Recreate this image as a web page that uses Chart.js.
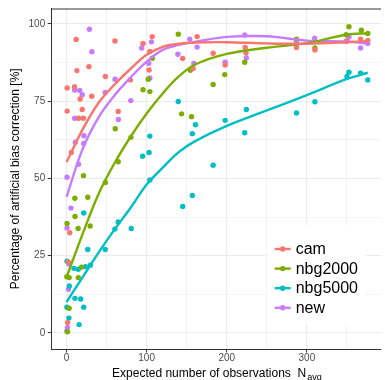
<!DOCTYPE html>
<html>
<head>
<meta charset="utf-8">
<script src="https://cdn.jsdelivr.net/npm/chart.js@4"></script>
<style>
  body { margin: 0; background: #ffffff; }
  #box { width: 385px; height: 380px; position: relative; }
</style>
</head>
<body>
<div id="box"><canvas id="grafico"></canvas></div>
<script>
const series = ["cam", "nbg2000", "nbg5000", "new"];
const cores = ["#F8766D", "#7CAE00", "#00BFC4", "#C77CFF"];

// observed points
const camX = [0.8, 0.8, 12, 13, 10, 28, 17, 31.5, 19.6, 15, 21, 6, 4, 2, 1.4, 60.4, 48.5, 79.6, 64.5, 95.5, 107, 104, 103, 145, 163, 158, 183, 198, 223, 224, 287, 310, 350, 367, 376];
const camY = [79.3, 71.8, 95, 84.9, 79.7, 86.2, 75.7, 76.6, 72.3, 69.5, 69.5, 58.4, 32.4, 23, 3.4, 94.5, 83, 81.9, 71.7, 93.7, 95.9, 91.1, 85.1, 88.8, 95.9, 85.6, 90.5, 86.7, 92.4, 90.6, 92.4, 91.6, 94.5, 95.1, 94.7];

const nbg2000X = [139.5, 107, 102, 95.5, 104, 60.8, 80.4, 64.5, 21.2, 48.5, 10.4, 26.5, 10.6, 0.6, 14.5, 29.5, 18.7, 0.4, 3.3, 14.7, 3.3, 1.2, 143.6, 156, 154.5, 183, 197.5, 222.4, 287, 310, 349, 352.5, 368, 376];
const nbg2000Y = [96.7, 88.9, 82.1, 78.7, 78.1, 66.1, 63.3, 55.4, 50.9, 48.7, 43.6, 43.9, 37.7, 35.4, 33.8, 34.6, 21.3, 18.2, 17.9, 17.9, 8, 0.4, 70.9, 70, 85, 80.4, 83.6, 87.6, 95.1, 92.2, 96.5, 99.1, 98, 96.9];

const nbg5000X = [139.5, 104, 95, 103, 104, 161, 157, 183, 145, 157, 198, 224.4, 222.4, 287, 310, 350, 352.5, 367, 376, 21.5, 60.3, 64.5, 80.8, 26.5, 48.3, 0.6, 9.4, 14.7, 23.6, 29.7, 3.5, 10.5, 17.7, 0.5, 21.5, 3, 15.7];
const nbg5000Y = [74.9, 63.7, 57.2, 58.4, 49.5, 67.4, 64.5, 54.3, 40.9, 44.5, 68.8, 72.3, 64.8, 71.2, 74.8, 83, 84.4, 84.1, 81.9, 38.8, 33.6, 35.9, 33.8, 27, 27, 23.2, 20.9, 20.6, 21.4, 21.9, 15.2, 11.2, 11, 8.3, 8.3, 4.8, 2.7];

const newX = [28.6, 31.6, 60.6, 48.3, 10.2, 16.5, 19.6, 10.2, 80.2, 64.7, 11, 21.7, 21.5, 15, 0.6, 5.5, 0.6, 3, 2.4, 1.2, 0.4, 93.8, 106, 102.6, 104, 139, 153.8, 159, 163, 198, 222.4, 224.4, 287, 309.7, 349, 352.5, 367, 376];
const newY = [98.3, 91, 82.1, 77.8, 78.6, 78.5, 77.1, 69.5, 75.2, 69.1, 61.7, 63.8, 61.3, 54.6, 50.4, 40.4, 34, 22.3, 14.1, 1.8, 0.6, 92.2, 94.2, 87.3, 82.5, 90.2, 95.1, 87.2, 92.5, 87.6, 96.4, 89, 94.4, 95.4, 94.4, 95.8, 92.2, 93.7];

// smoothed curves
const fitX = [0, 20, 40, 60, 80, 100, 120, 140, 160, 200, 250, 300, 350, 376];
const camFit = [55.3, 65.8, 74.5, 80.4, 85.5, 90, 92.6, 93.6, 94, 94.1, 93.7, 93.6, 94.1, 94.5];
const nbg2000Fit = [18, 32, 45, 55, 63.5, 71, 77.5, 83, 86.8, 90.3, 92.3, 93.8, 96.6, 97];
const nbg5000Fit = [10, 18, 26, 33.5, 40.5, 48, 53.5, 58.5, 62, 67, 72, 77, 82.2, 84.2];
const newFit = [44, 59.5, 69.8, 76.9, 82.7, 87.8, 91.6, 93.2, 94.2, 95.8, 96, 94.6, 94.3, 93.7];

const xTicks = [0, 50, 100, 150, 200, 250, 300, 350];
const yTicks = [0, 12.5, 25, 37.5, 50, 62.5, 75, 87.5, 100];

const pontosX = [camX, nbg2000X, nbg5000X, newX];
const pontosY = [camY, nbg2000Y, nbg5000Y, newY];
const curvas = [camFit, nbg2000Fit, nbg5000Fit, newFit];

function juntaXY(xs, ys) {
  return xs.map((x, i) => ({ x: x, y: ys[i] }));
}

const datasets = [];
series.forEach((nome, i) => {
  datasets.push({
    type: "scatter",
    label: nome,
    data: juntaXY(pontosX[i], pontosY[i]),
    backgroundColor: cores[i],
    borderWidth: 0,
    pointRadius: 2.7,
    order: 2,
  });
});
series.forEach((nome, i) => {
  datasets.push({
    type: "line",
    label: nome + " fit",
    data: juntaXY(fitX, curvas[i]),
    borderColor: cores[i],
    borderWidth: 2.4,
    pointRadius: 0,
    fill: false,
    tension: 0.35,
    order: 1,
  });
});

const fonte = "'Liberation Sans', Arial, sans-serif";

const extras = {
  id: "extras",
  afterDraw(chart) {
    const ctx = chart.ctx;
    const area = chart.chartArea;
    ctx.save();
    // top panel border
    ctx.strokeStyle = "#333333";
    ctx.lineWidth = 1;
    ctx.beginPath();
    ctx.moveTo(area.left, area.top + 0.5);
    ctx.lineTo(area.right, area.top + 0.5);
    ctx.stroke();

    // legend inside panel
    const lx = area.left + 215;
    const ly = 225;
    ctx.fillStyle = "#ffffff";
    ctx.fillRect(lx, ly, 98, 100);
    ctx.font = "16px " + fonte;
    ctx.textBaseline = "middle";
    ctx.textAlign = "left";
    series.forEach((nome, i) => {
      const y = 249 + i * 19.6;
      ctx.strokeStyle = cores[i];
      ctx.lineWidth = 2.4;
      ctx.beginPath();
      ctx.moveTo(lx + 8, y);
      ctx.lineTo(lx + 24, y);
      ctx.stroke();
      ctx.fillStyle = cores[i];
      ctx.beginPath();
      ctx.arc(lx + 16, y, 2.7, 0, Math.PI * 2);
      ctx.fill();
      ctx.fillStyle = "#000000";
      ctx.fillText(nome, lx + 29, y + 0.5);
    });

    // x title with subscript
    const principal = "Expected number of observations  N";
    const sub = "avg";
    ctx.font = "12px " + fonte;
    const w1 = ctx.measureText(principal).width;
    ctx.font = "9px " + fonte;
    const w2 = ctx.measureText(sub).width;
    const cx = (area.left + area.right) / 2;
    const x0 = cx - (w1 + w2) / 2;
    ctx.textBaseline = "alphabetic";
    ctx.fillStyle = "#000000";
    ctx.font = "12px " + fonte;
    ctx.fillText(principal, x0, 376.5);
    ctx.font = "9px " + fonte;
    ctx.fillText(sub, x0 + w1 + 1, 379.5);
    ctx.restore();
  },
};

const grafico = new Chart(document.getElementById("grafico"), {
  type: "scatter",
  data: { datasets: datasets },
  plugins: [extras],
  options: {
    responsive: true,
    maintainAspectRatio: false,
    animation: false,
    layout: { padding: { top: 7, right: 0, left: 0, bottom: 0 } },
    plugins: {
      legend: { display: false },
      tooltip: { enabled: false },
    },
    scales: {
      x: {
        type: "linear",
        min: -18.5,
        max: 392.5,
        afterBuildTicks: (s) => {
          s.ticks = xTicks.map((v) => ({ value: v }));
        },
        afterFit: (s) => {
          s.height = 31;
        },
        ticks: {
          color: "#4D4D4D",
          font: { size: 10, family: fonte },
          padding: 0,
          maxRotation: 0,
          autoSkip: false,
          callback: (v) => (v % 100 === 0 ? v : ""),
        },
        grid: {
          color: "#EBEBEB",
          lineWidth: (c) => (c.tick && c.tick.value % 100 === 0 ? 1.1 : 0.6),
          tickLength: 3.5,
          tickWidth: 1,
          tickColor: (c) => (c.tick && c.tick.value % 100 === 0 ? "#333333" : "rgba(0,0,0,0)"),
        },
        border: { display: true, color: "#333333", width: 1 },
      },
      y: {
        type: "linear",
        min: -5.2,
        max: 105,
        afterBuildTicks: (s) => {
          s.ticks = yTicks.map((v) => ({ value: v }));
        },
        afterFit: (s) => {
          s.width = 51.7;
        },
        ticks: {
          color: "#4D4D4D",
          font: { size: 10, family: fonte },
          padding: 2.5,
          autoSkip: false,
          callback: (v) => (v % 25 === 0 ? v : ""),
        },
        grid: {
          color: "#EBEBEB",
          lineWidth: (c) => (c.tick && c.tick.value % 25 === 0 ? 1.1 : 0.6),
          tickLength: 4,
          tickWidth: 1,
          tickColor: (c) => (c.tick && c.tick.value % 25 === 0 ? "#333333" : "rgba(0,0,0,0)"),
        },
        border: { display: true, color: "#333333", width: 1 },
        title: {
          display: true,
          text: "Percentage of artificial bias correction [%]",
          color: "#000000",
          font: { size: 12, family: fonte },
          padding: { top: 8, bottom: 0 },
        },
      },
    },
  },
});
</script>
</body>
</html>
